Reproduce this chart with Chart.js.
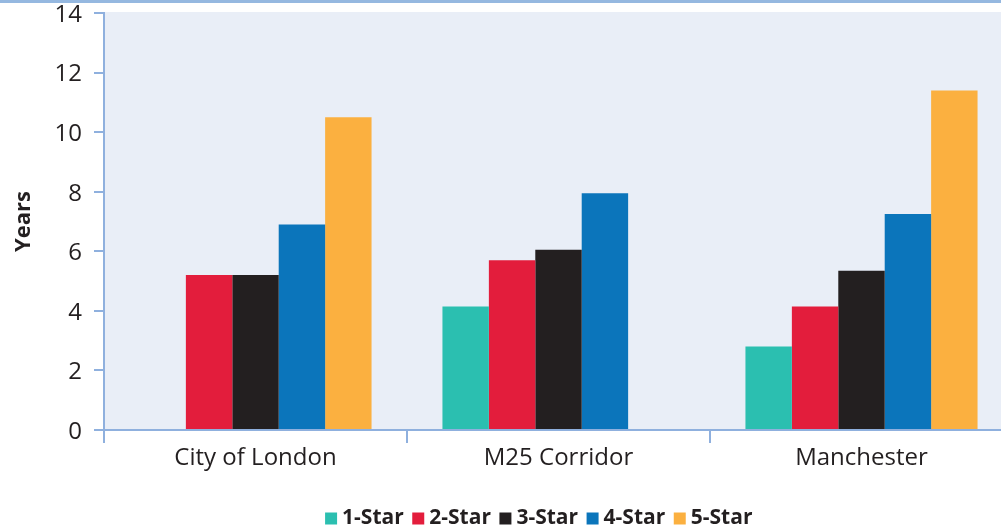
<!DOCTYPE html>
<html>
<head>
<meta charset="utf-8">
<script src="https://cdn.jsdelivr.net/npm/chart.js@4.4.0/dist/chart.umd.min.js"></script>
<style>
    html, body { margin: 0; padding: 0; background: #fff; overflow: hidden; }
    #wrap { position: absolute; left: 0; top: 0; width: 1013px; height: 526px; }
</style>
</head>
<body>
<div id="wrap"><canvas id="hotelChart" width="1013" height="526"></canvas></div>
<script>
// Data
const categories = ['City of London', 'M25 Corridor', 'Manchester'];
const seriesNames = ['1-Star', '2-Star', '3-Star', '4-Star', '5-Star'];
const oneStar = [null, 4.15, 2.8];
const twoStar = [5.2, 5.7, 4.15];
const threeStar = [5.2, 6.05, 5.35];
const fourStar = [6.9, 7.95, 7.25];
const fiveStar = [10.5, null, 11.4];
const seriesColors = ['#2bbfb0', '#e31d3c', '#231f20', '#0b75bb', '#fbb040'];
const yMin = 0, yMax = 14, yStep = 2;

const axisColor = '#8fb0de';
const textColor = '#231f20';
const fontFamily = '"Open Sans", "Noto Sans", sans-serif';

// plot background + blue rule along the top
const backdrop = {
    id: 'backdrop',
    beforeDraw: function (chart) {
        const ctx = chart.ctx, a = chart.chartArea;
        ctx.save();
        ctx.fillStyle = '#e9eef7';
        ctx.fillRect(a.left, a.top - 1, a.right - a.left, a.bottom - a.top + 1);
        ctx.fillStyle = '#95b8e0';
        ctx.fillRect(0, 0, chart.width, 3);
        ctx.restore();
    },
    // legend in the reference sits right of the page centre and near the bottom
    afterLayout: function (chart) {
        chart.legend.left += 35;
        chart.legend.right += 35;
        chart.legend.top += 13;
        chart.legend.bottom += 13;
    }
};

const allValues = [oneStar, twoStar, threeStar, fourStar, fiveStar];
const datasets = seriesNames.map(function (name, i) {
    return {
        label: name,
        data: allValues[i],
        backgroundColor: seriesColors[i],
        borderWidth: 0,
        pointStyle: 'rect',
        barPercentage: 1,
        categoryPercentage: 0.766
    };
});

const ctx = document.getElementById('hotelChart').getContext('2d');
const chart = new Chart(ctx, {
    type: 'bar',
    data: { labels: categories, datasets: datasets },
    plugins: [backdrop],
    options: {
        responsive: false,
        animation: false,
        layout: { padding: { top: 13, left: 0, right: 0, bottom: 0 } },
        scales: {
            x: {
                grid: { offset: true, drawOnChartArea: false, tickLength: 13, color: axisColor, lineWidth: 2 },
                border: { color: axisColor, width: 2 },
                ticks: { color: textColor, font: { family: fontFamily, size: 24 }, padding: 1 },
                afterFit: function (s) { s.height = 51; }
            },
            y: {
                min: yMin,
                max: yMax,
                ticks: { stepSize: yStep, color: textColor, font: { family: fontFamily, size: 24 }, padding: 12, labelOffset: 2 },
                grid: { drawOnChartArea: false, tickLength: 10, color: axisColor, lineWidth: 2 },
                border: { color: axisColor, width: 2 },
                title: {
                    display: true, text: 'Years', color: textColor,
                    font: { family: fontFamily, size: 22, weight: 'bold' },
                    padding: { top: 11, bottom: 0 }
                },
                afterFit: function (s) { s.width = 104; s.paddingTop = 0; s.paddingBottom = 0; }
            }
        },
        plugins: {
            legend: {
                position: 'bottom',
                labels: {
                    usePointStyle: true, boxWidth: 1, boxHeight: 12, padding: 14, color: textColor,
                    font: { family: fontFamily, size: 21, weight: 'bold' }
                }
            },
            tooltip: { enabled: false }
        }
    }
});
</script>
</body>
</html>
